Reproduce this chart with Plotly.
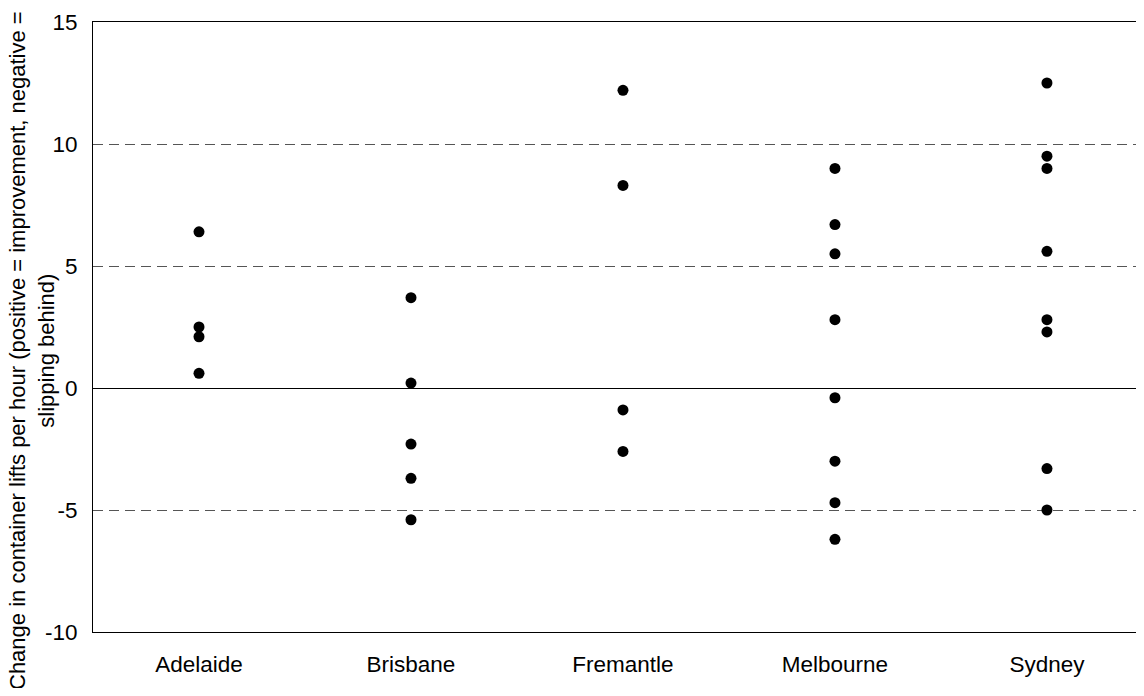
import plotly.graph_objects as go

ports = ['Adelaide', 'Brisbane', 'Fremantle', 'Melbourne', 'Sydney']
adelaide = [6.4, 2.5, 2.1, 0.6]
brisbane = [3.7, 0.2, -2.3, -3.7, -5.4]
fremantle = [12.2, 8.3, -0.9, -2.6]
melbourne = [9.0, 6.7, 5.5, 2.8, -0.4, -3.0, -4.7, -6.2]
sydney = [12.5, 9.5, 9.0, 5.6, 2.8, 2.3, -3.3, -5.0]
y_ticks = [-10, -5, 0, 5, 10, 15]
y_title = 'Change in container lifts per hour (positive = improvement, negative =<br>slipping behind)'

series = [adelaide, brisbane, fremantle, melbourne, sydney]
xs, ys = [], []
for port, vals in zip(ports, series):
    xs += [port] * len(vals)
    ys += vals

fig = go.Figure(go.Scatter(
    x=xs, y=ys, mode='markers',
    marker=dict(size=11, color='#000000'),
    showlegend=False
))

# y title as a rotated annotation so it can sit close to the tick labels
fig.add_annotation(
    text=y_title, textangle=-90, showarrow=False,
    xref='paper', yref='paper', x=0, y=0.5, xanchor='center', yanchor='middle',
    xshift=-61, yshift=-24, font=dict(size=22, color='#000000'), align='center'
)

# page has an 8px body margin, so the figure is sized to fit inside it
fig.update_layout(
    width=1128, height=680,
    margin=dict(l=85, r=0, t=14, b=56, autoexpand=False),
    paper_bgcolor='white', plot_bgcolor='white',
    font=dict(family='Liberation Sans, Arial, sans-serif', size=22.5, color='#000000'),
    xaxis=dict(
        type='category', categoryorder='array', categoryarray=ports,
        range=[-0.5, 4.42], showgrid=False, zeroline=False, automargin=False,
        showline=True, linecolor='#000000', linewidth=1, mirror=True,
        ticks='', ticklabelstandoff=12,
    ),
    yaxis=dict(
        range=[-10, 15], tickvals=y_ticks, ticktext=[str(v) for v in y_ticks],
        showgrid=True, gridcolor='#555555', gridwidth=1, griddash='10px,6px',
        zeroline=True, zerolinecolor='#000000', zerolinewidth=1, automargin=False,
        showline=True, linecolor='#000000', linewidth=1,
        ticks='', ticklabelstandoff=10,
    ),
)

fig.write_html("out.html")
